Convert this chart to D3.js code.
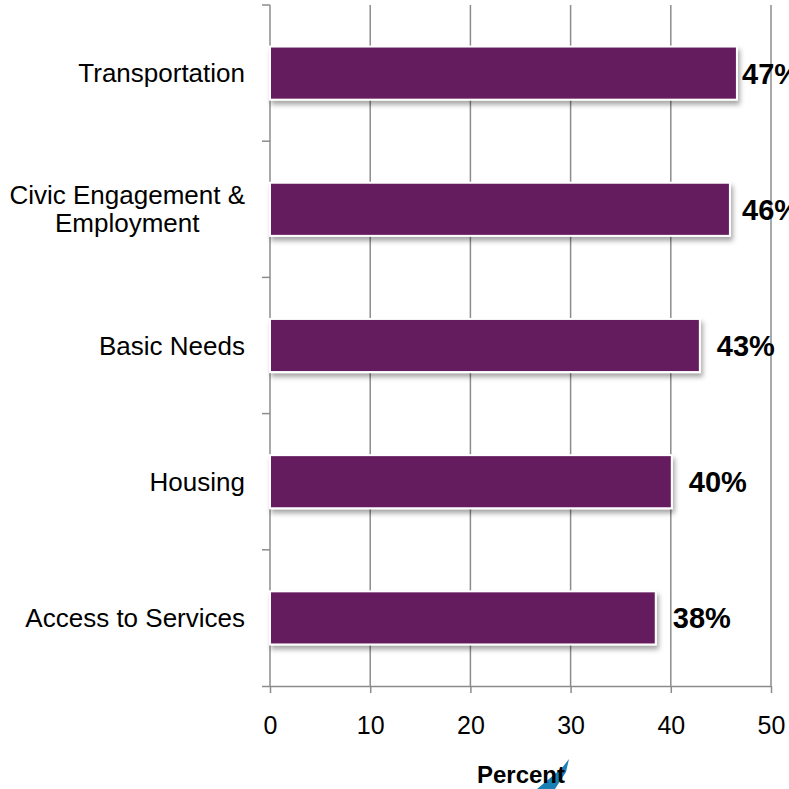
<!DOCTYPE html>
<html>
<head>
    <script src="https://d3js.org/d3.v7.min.js"></script>
    <style>
        body { margin: 0; background: #fff; overflow: hidden; }
        text { font-family: "Liberation Sans", Arial, sans-serif; fill: #000; }
        .grid line { stroke: #8c8c8c; stroke-width: 1.5px; }
        .axis path, .axis line { stroke: #8c8c8c; stroke-width: 1.5px; }
    </style>
</head>
<body>
    <div id="chart"></div>
    <script>
        // data
        const categories = [["Transportation"], ["Civic Engagement &", "Employment"], ["Basic Needs"], ["Housing"], ["Access to Services"]];
        const values = [46.6, 45.9, 42.9, 40.1, 38.5];
        const valueLabels = ["47%", "46%", "43%", "40%", "38%"];
        const xTicks = [0, 10, 20, 30, 40, 50];

        const width = 789, height = 789;
        const margin = { top: 5, right: 18, bottom: 103, left: 270 };

        const svg = d3.select("#chart")
            .append("svg")
            .attr("width", width)
            .attr("height", height);

        const defs = svg.append("defs");
        const shadow = defs.append("filter").attr("id", "shadow")
            .attr("x", "-5%").attr("y", "-20%").attr("width", "115%").attr("height", "150%");
        shadow.append("feDropShadow")
            .attr("dx", 2).attr("dy", 4).attr("stdDeviation", 2.5)
            .attr("flood-color", "#000").attr("flood-opacity", 0.35);

        const x = d3.scaleLinear()
            .domain([0, 50])
            .range([margin.left, width - margin.right]);

        const y = d3.scaleBand()
            .domain(d3.range(categories.length))
            .range([margin.top, height - margin.bottom])
            .paddingInner(0.61)
            .paddingOuter(0.305);

        // vertical gridlines
        svg.append("g").attr("class", "grid")
            .selectAll("line")
            .data(xTicks.slice(1))
            .join("line")
            .attr("x1", d => x(d)).attr("x2", d => x(d))
            .attr("y1", margin.top).attr("y2", height - margin.bottom);

        // x axis
        svg.append("g").attr("class", "axis")
            .attr("transform", `translate(0,${height - margin.bottom})`)
            .call(d3.axisBottom(x).tickValues(xTicks).tickSize(7).tickSizeOuter(0).tickPadding(23))
            .call(g => g.selectAll("text").attr("font-size", 25).attr("fill", "#000"))
            .call(g => g.select(".domain").attr("d", `M${margin.left - 8},0.5H${width - margin.right}`));

        // y axis: line with ticks at band boundaries
        const bandStep = y.step();
        const boundaries = d3.range(categories.length + 1).map(i => margin.top + i * bandStep);
        const yAxis = svg.append("g").attr("class", "axis");
        yAxis.append("line")
            .attr("x1", margin.left).attr("x2", margin.left)
            .attr("y1", margin.top).attr("y2", height - margin.bottom);
        yAxis.selectAll(".tick")
            .data(boundaries.slice(0, -1))
            .join("line")
            .attr("x1", margin.left - 8).attr("x2", margin.left)
            .attr("y1", d => d).attr("y2", d => d);

        // bars
        svg.append("g")
            .selectAll("rect")
            .data(values)
            .join("rect")
            .attr("x", x(0))
            .attr("y", (d, i) => y(i))
            .attr("width", d => x(d) - x(0))
            .attr("height", y.bandwidth())
            .attr("fill", "#651a5e")
            .attr("stroke", "#fff")
            .attr("stroke-width", 2)
            .attr("filter", "url(#shadow)");

        // value labels (pushed in where they would run past the plot)
        svg.append("g")
            .selectAll("text")
            .data(values)
            .join("text")
            .attr("x", d => Math.min(x(d) + 17, 742))
            .attr("y", (d, i) => y(i) + y.bandwidth() / 2)
            .attr("dy", "0.36em")
            .attr("font-size", 29)
            .attr("font-weight", "bold")
            .text((d, i) => valueLabels[i]);

        // category labels
        const labelX = margin.left - 25;
        svg.append("g")
            .selectAll("text")
            .data(categories)
            .join("text")
            .attr("font-size", 26)
            .each(function (lines, i) {
                const t = d3.select(this);
                const cy = y(i) + y.bandwidth() / 2;
                const lh = 28;
                const y0 = cy - (lines.length - 1) * lh / 2;
                lines.forEach((l, k) => {
                    t.append("tspan").attr("y", y0 + k * lh).attr("dy", "0.35em").text(l);
                });
                if (lines.length === 1) {
                    t.attr("text-anchor", "end").selectAll("tspan").attr("x", labelX);
                } else {
                    let maxW = 0;
                    t.selectAll("tspan").each(function () { maxW = Math.max(maxW, this.getComputedTextLength()); });
                    t.attr("text-anchor", "middle").selectAll("tspan").attr("x", labelX - maxW / 2);
                }
            });

        // small blue mark behind the axis title
        svg.append("path")
            .attr("d", "M537,789 L562,768 L569,759 L566,772 L555,789 Z")
            .attr("fill", "#1a7fb5");

        // axis title
        svg.append("text")
            .attr("x", 521)
            .attr("y", 783)
            .attr("text-anchor", "middle")
            .attr("font-size", 24)
            .attr("font-weight", "bold")
            .text("Percent");
    </script>
</body>
</html>
